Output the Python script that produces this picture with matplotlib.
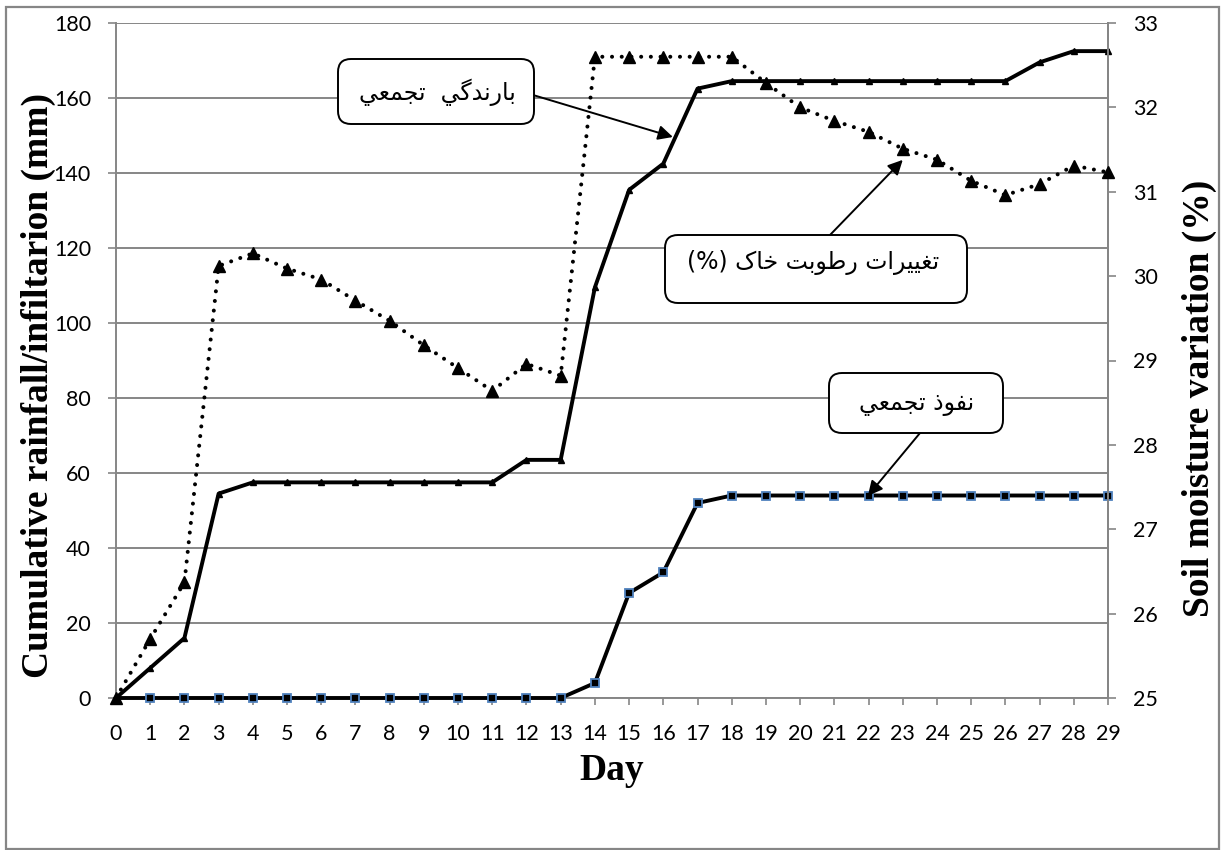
import matplotlib
matplotlib.use("Agg")
import matplotlib.pyplot as plt
from matplotlib.patches import FancyBboxPatch, Rectangle
from matplotlib.transforms import IdentityTransform

# ---- data -------------------------------------------------------------
days = list(range(0, 30))

rainfall_mm = [0, 8, 16, 54.5, 57.5, 57.5, 57.5, 57.5, 57.5, 57.5,
               57.5, 57.5, 63.5, 63.5, 109.5, 135.5, 142.5, 162.5, 164.5, 164.5,
               164.5, 164.5, 164.5, 164.5, 164.5, 164.5, 164.5, 169.5, 172.5, 172.5]

infiltration_mm = [0, 0, 0, 0, 0, 0, 0, 0, 0, 0,
                   0, 0, 0, 0, 4, 28, 33.5, 52, 54, 54,
                   54, 54, 54, 54, 54, 54, 54, 54, 54, 54]

soil_moisture_pct = [25.0, 25.70, 26.37, 30.12, 30.27, 30.09, 29.96, 29.71, 29.47, 29.18,
                     28.91, 28.64, 28.96, 28.82, 32.60, 32.60, 32.60, 32.60, 32.60, 32.29,
                     32.00, 31.84, 31.71, 31.51, 31.38, 31.13, 30.96, 31.09, 31.31, 31.23]

left_ticks = [0, 20, 40, 60, 80, 100, 120, 140, 160, 180]
right_ticks = [25, 26, 27, 28, 29, 30, 31, 32, 33]

# Arabic captions, written in presentation forms in visual (left-to-right) order
tajamoi = "\uFEF2\uFECC\uFEE4\uFEA0\uFE97"                    # تجمعي
barandegi = "\uFEF2\uFB94\uFEAA\uFEE7\uFEAD\uFE8E\uFE91"       # بارندگي
taghirat = "\uFE95\uFE8D\uFEAE\uFEF4\uFEF4\uFED0\uFE97"        # تغييرات
rotubat = "\uFE96\uFE91\uFEEE\uFEC3\uFEAD"                     # رطوبت
khak = "\uFB8E\uFE8E\uFEA7"                                    # خاک
nofuz = "\uFEAB\uFEEE\uFED4\uFEE7"                             # نفوذ

label_rain = tajamoi + "  " + barandegi
label_soil = "(%) " + khak + " " + rotubat + " " + taghirat
label_infil = tajamoi + " " + nofuz

# ---- figure -------------------------------------------------------------
W, H = 1223, 850
fig = plt.figure(figsize=(W / 100, H / 100), dpi=100)
fig.patch.set_facecolor("white")

ax = fig.add_axes([116 / W, 1 - 698 / H, (1108 - 116) / W, (698 - 23) / H])
ax2 = ax.twinx()

grid_gray = "#868686"

ax.set_xlim(0, 29)
ax.set_ylim(0, 180)
ax2.set_ylim(25, 33)

ax.set_yticks(left_ticks)
ax.set_xticks(days)
ax2.set_yticks(right_ticks)

ax.yaxis.grid(True, color=grid_gray, lw=1.4)
ax.set_axisbelow(True)

for a in (ax, ax2):
    a.spines["top"].set_visible(False)
    for side in ("left", "right", "bottom"):
        a.spines[side].set_color(grid_gray)
        a.spines[side].set_linewidth(1.4)
ax2.spines["left"].set_visible(False)
ax2.spines["bottom"].set_visible(False)

ax.tick_params(axis="y", direction="out", length=6, width=1.2, color=grid_gray, pad=12)
ax.tick_params(axis="x", direction="out", length=5, width=1.2, color=grid_gray, pad=14)
ax2.tick_params(axis="y", direction="out", length=6, width=1.2, color=grid_gray, pad=12)

for lbl in ax.get_xticklabels() + ax.get_yticklabels() + ax2.get_yticklabels():
    lbl.set_fontfamily("Lato")
    lbl.set_fontsize(15.5)

# ---- series -------------------------------------------------------------
ax.plot(days, rainfall_mm, color="black", lw=2.8, marker="^", ms=5,
        mfc="black", mec="black", zorder=3, clip_on=False)
ax.plot(days, infiltration_mm, color="black", lw=2.8, marker="s", ms=6,
        mfc="black", mec="#4f81bd", mew=1.3, markevery=list(range(1, 30)),
        zorder=3, clip_on=False)
ax2.plot(days, soil_moisture_pct, color="black", lw=2.9,
         linestyle=(0, (0.01, 2.4)), dash_capstyle="round",
         marker="^", ms=8, mfc="black", mec="black", zorder=3, clip_on=False)

# ---- axis titles --------------------------------------------------------
serif_bold = dict(family="Liberation Serif", weight="bold", size=27)
fig.text(38 / W, 1 - 385 / H, "Cumulative rainfall/infiltarion (mm)",
         rotation=90, ha="center", va="center", **serif_bold)
fig.text(1199 / W, 1 - 398 / H, "Soil moisture variation (%)",
         rotation=90, ha="center", va="center", **serif_bold)
fig.text(612 / W, 1 - 771 / H, "Day", ha="center", va="center", **serif_bold)

# ---- callouts (pixel coordinates measured from the top-left) -----------
def add_callout(text, box, text_xy, start, tip_data):
    x0, y0, x1, y1 = box
    patch = FancyBboxPatch((x0, H - y1), x1 - x0, y1 - y0,
                           boxstyle="round,pad=0,rounding_size=13",
                           transform=IdentityTransform(), facecolor="white",
                           edgecolor="black", lw=1.4, zorder=5)
    fig.add_artist(patch)
    fig.text(text_xy[0] / W, 1 - text_xy[1] / H, text, family=["DejaVu Sans"],
             size=17, ha="center", va="center", zorder=6)
    ax2.annotate("", xy=tip_data, xycoords=ax.transData,
                 xytext=(start[0], H - start[1]), textcoords="figure pixels",
                 arrowprops=dict(arrowstyle="-|>", color="black", lw=1.4,
                                 mutation_scale=22, shrinkA=0, shrinkB=0),
                 zorder=4)

add_callout(label_rain, (338, 59, 534, 124), (437, 92), (533, 95), (16.28, 149.6))
add_callout(label_soil, (665, 235, 967, 303), (813, 263), (830, 235), (23.0, 143.5))
add_callout(label_infil, (829, 373, 1003, 433), (917, 404), (920, 433), (21.98, 53.9))

# outer chart frame
fig.add_artist(Rectangle((6, 1), 1213, H - 8, transform=IdentityTransform(),
                         fill=False, edgecolor=grid_gray, lw=1.6))

fig.savefig("out.png", dpi=100)
